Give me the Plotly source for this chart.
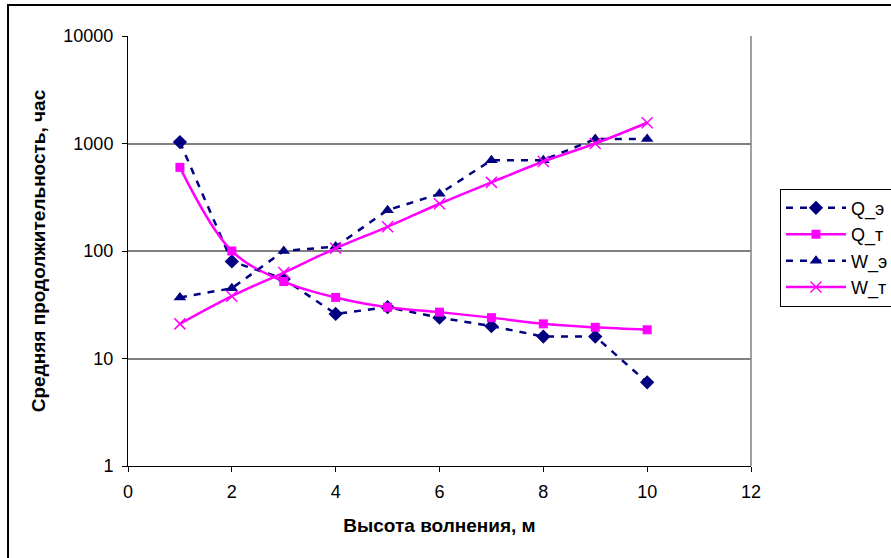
import plotly.graph_objects as go

# Wave height, m
heights = [1, 2, 3, 4, 5, 6, 7, 8, 9, 10]

# Mean duration, hours
q_exp = [1030, 80, 55, 26, 30, 24, 20, 16, 16, 6]
q_theor = [600, 100, 52, 37, 30, 27, 24, 21, 19.5, 18.5]
w_exp = [37, 45, 100, 110, 240, 340, 700, 700, 1100, 1100]
w_theor = [21, 38, 63, 106, 168, 275, 435, 680, 1000, 1560]

navy = "#000080"
magenta = "#FF00FF"

fig = go.Figure()

fig.add_trace(go.Scatter(
    x=heights, y=q_exp, name="Q_э", mode="lines+markers",
    line=dict(color=navy, width=2.5, dash="7px,7px"),
    marker=dict(symbol="diamond", size=11, color=navy),
))
fig.add_trace(go.Scatter(
    x=heights, y=q_theor, name="Q_т", mode="lines+markers",
    line=dict(color=magenta, width=2.5, shape="spline", smoothing=1.0),
    marker=dict(symbol="square", size=9, color=magenta),
))
fig.add_trace(go.Scatter(
    x=heights, y=w_exp, name="W_э", mode="lines+markers",
    line=dict(color=navy, width=2.5, dash="7px,7px"),
    marker=dict(symbol="triangle-up", size=11, color=navy),
))
fig.add_trace(go.Scatter(
    x=heights, y=w_theor, name="W_т", mode="lines+markers",
    line=dict(color=magenta, width=2.5, shape="spline", smoothing=1.0),
    marker=dict(symbol="x-thin", size=11, color=magenta,
                line=dict(color=magenta, width=1.5)),
))

font_family = "Liberation Sans, Arial, sans-serif"

fig.update_layout(
    width=891, height=558,
    margin=dict(l=128, r=140, t=36, b=92, autoexpand=False),
    paper_bgcolor="white",
    plot_bgcolor="white",
    font=dict(family=font_family, size=18, color="black"),
    showlegend=True,
    legend=dict(
        x=1.0465, y=0.645, xanchor="left", yanchor="top",
        bordercolor="black", borderwidth=1, bgcolor="white",
        font=dict(family=font_family, size=18, color="black"),
        itemwidth=60, tracegroupgap=0,
    ),
    xaxis=dict(
        range=[0, 12], tickvals=[0, 2, 4, 6, 8, 10, 12],
        showgrid=False, zeroline=False,
        showline=True, linecolor="black", linewidth=1,
        ticks="outside", ticklen=5, tickcolor="black",
        tickfont=dict(size=18), ticklabelstandoff=4,
        title=dict(text="<b>Высота волнения, м</b>", font=dict(size=19), standoff=18),
    ),
    yaxis=dict(
        type="log", range=[0, 4],
        tickvals=[1, 10, 100, 1000, 10000],
        ticktext=["1", "10", "100", "1000", "10000"],
        showgrid=True, gridcolor="#808080", gridwidth=1.5,
        zeroline=False,
        showline=True, linecolor="black", linewidth=1,
        ticks="outside", ticklen=5, tickcolor="black",
        tickfont=dict(size=18), ticklabelstandoff=5,
        title=dict(text="<b>Средняя продолжительность, час</b>", font=dict(size=19), standoff=12),
    ),
    shapes=[
        # right edge of the plotting area
        dict(type="line", xref="paper", yref="paper", x0=1, x1=1, y0=0, y1=1,
             line=dict(color="#808080", width=1.5)),
        # outer chart frame
        dict(type="rect", xref="paper", yref="paper",
             x0=-0.1926, x1=1.4, y0=-0.35, y1=1.072,
             line=dict(color="black", width=2), layer="below"),
    ],
)

fig.write_html("out.html")
